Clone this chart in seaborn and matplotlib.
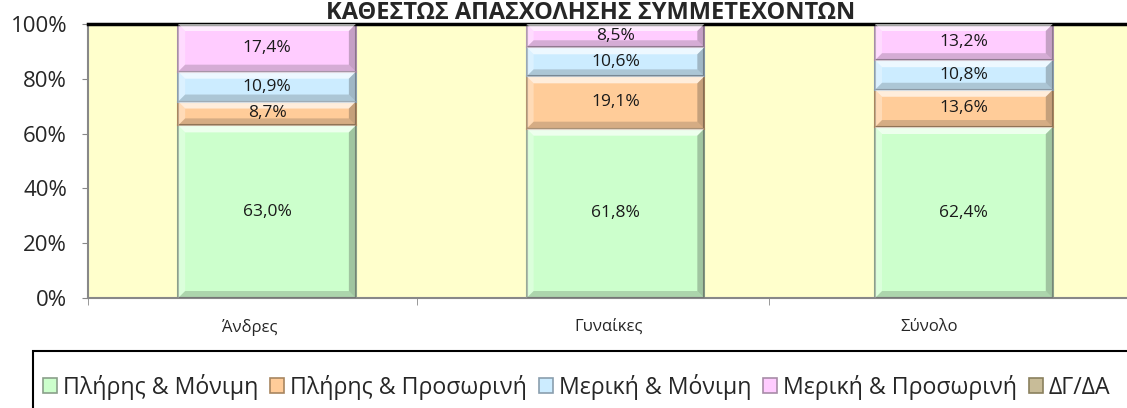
import matplotlib
matplotlib.use('Agg')
import matplotlib.pyplot as plt
from matplotlib.patches import Patch, Rectangle, Polygon
from matplotlib.ticker import PercentFormatter
import seaborn as sns

# data
categories = ['Άνδρες', 'Γυναίκες', 'Σύνολο']
series = ['Πλήρης & Μόνιμη', 'Πλήρης & Προσωρινή', 'Μερική & Μόνιμη',
          'Μερική & Προσωρινή', 'ΔΓ/ΔΑ']
full_perm = [63.0, 61.8, 62.4]
full_temp = [8.7, 19.1, 13.6]
part_perm = [10.9, 10.6, 10.8]
part_temp = [17.4, 8.5, 13.2]
dk_na = [0.0, 0.0, 0.0]
colors = ['#CCFFCC', '#FFCC99', '#CCECFF', '#FFCCFF', '#C8BC98']
edges = ['#8AA08A', '#A88660', '#8A9EAE', '#A88CA8', '#8A805E']
title = 'ΚΑΘΕΣΤΩΣ ΑΠΑΣΧΟΛΗΣΗΣ ΣΥΜΜΕΤΕΧΟΝΤΩΝ'

sns.set_style('white')
plt.rcParams['font.family'] = ['Open Sans', 'DejaVu Sans']

fig = plt.figure(figsize=(11.27, 4.08), dpi=100)
ax = fig.add_axes([0.078, 0.2696, 0.922, 0.6716])
ax.set_facecolor('#FFFFCC')

layers = [full_perm, full_temp, part_perm, part_temp, dk_na]
bottom = [0.0, 0.0, 0.0]
bars = []
for vals, col, ec in zip(layers, colors, edges):
    sns.barplot(x=categories, y=vals, order=categories, color=col, width=0.51,
                bottom=bottom, edgecolor=ec, linewidth=1.5, errorbar=None,
                saturation=1, ax=ax)
    cont = ax.containers[-1]
    bars.append(cont)
    labs = [f'{v:.1f}%'.replace('.', ',') if v > 0 else '' for v in vals]
    ax.bar_label(cont, labels=labs, label_type='center', fontsize=12.5,
                 color='#1a1a1a', zorder=5)
    bottom = [b + v for b, v in zip(bottom, vals)]

ax.set_xlim(-0.514, 2.468)
ax.set_ylim(0, 100)

# bevel look, like the Excel bars: light top/left, dark bottom/right
bb = ax.get_window_extent()
bev = 7
dx = bev * (ax.get_xlim()[1] - ax.get_xlim()[0]) / bb.width
dy = bev * (ax.get_ylim()[1] - ax.get_ylim()[0]) / bb.height
for cont in bars:
    for p in cont.patches:
        x, y, w, h = p.get_x(), p.get_y(), p.get_width(), p.get_height()
        if h <= 0:
            continue
        d = min(dy, h / 2.5)
        sides = [
            ([(x, y + h), (x + w, y + h), (x + w - dx, y + h - d), (x + dx, y + h - d)], 'white', 0.65),
            ([(x, y), (x, y + h), (x + dx, y + h - d), (x + dx, y + d)], 'white', 0.3),
            ([(x + w, y), (x + w, y + h), (x + w - dx, y + h - d), (x + w - dx, y + d)], '#303030', 0.28),
            ([(x, y), (x + w, y), (x + w - dx, y + d), (x + dx, y + d)], '#303030', 0.2),
        ]
        for pts, c, a in sides:
            ax.add_patch(Polygon(pts, closed=True, facecolor=c, alpha=a,
                                 edgecolor='none', zorder=3))

ax.yaxis.set_major_formatter(PercentFormatter(decimals=0))
ax.set_yticks([0, 20, 40, 60, 80, 100])
ax.tick_params(axis='y', length=4, color='#888888', labelsize=16, pad=11,
               left=True)
ax.set_xticks([-0.05, 0.98, 1.90])
ax.set_xticklabels(categories)
ax.tick_params(axis='x', length=0, labelsize=12, pad=15)
ax.set_xticks([-0.514, 0.43, 1.44], minor=True)
ax.tick_params(axis='x', which='minor', length=5, color='#888888', bottom=True)
ax.set_xlabel('')
ax.set_ylabel('')

for side in ['left', 'bottom']:
    ax.spines[side].set_color('#888888')
    ax.spines[side].set_linewidth(1.5)
ax.spines['top'].set_color('black')
ax.spines['top'].set_linewidth(2.5)
ax.spines['right'].set_visible(False)

fig.text(0.524, 1 - 19 / 408, title, ha='center', va='baseline', fontsize=17,
         fontweight='bold')

handles = [Patch(facecolor=c, edgecolor=e, linewidth=1.2) for c, e in zip(colors, edges)]
fig.legend(handles, series, loc='center left', bbox_to_anchor=(0.038, 0.052),
           ncol=5, frameon=False, fontsize=16.7, handlelength=0.62,
           handleheight=0.62, handletextpad=0.25, columnspacing=0.5,
           borderpad=0, borderaxespad=0)
fig.patches.append(Rectangle((33 / 1127, -0.2), 1.2, 0.3397, fill=False,
                             linewidth=1.5, edgecolor='black',
                             transform=fig.transFigure, figure=fig))

plt.savefig('out.png', dpi=100)
